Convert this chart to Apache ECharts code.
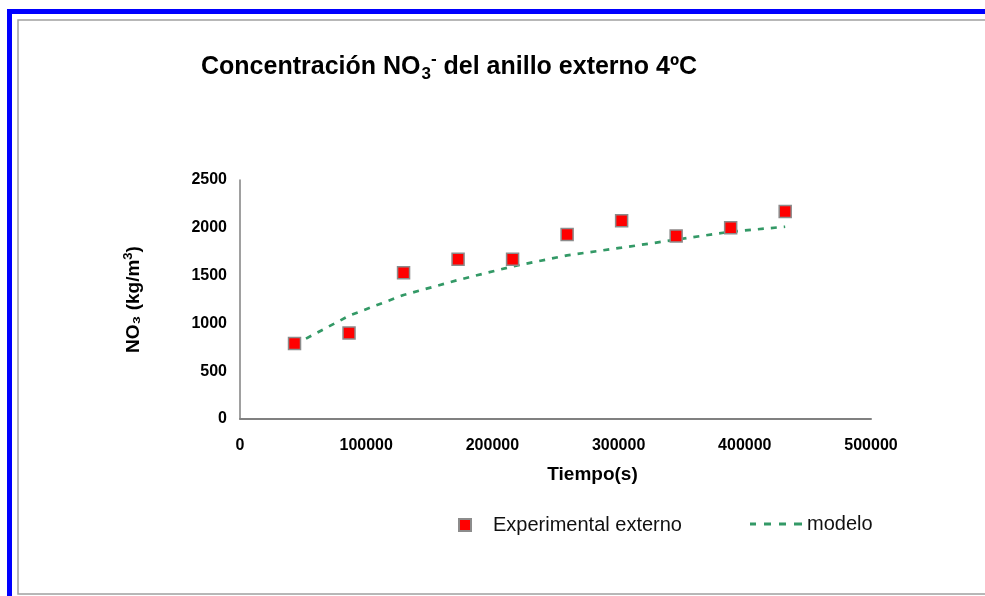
<!DOCTYPE html>
<html>
<head>
<meta charset="utf-8">
<script src="https://cdn.jsdelivr.net/npm/echarts@6/dist/echarts.min.js"></script>
<style>
html,body{margin:0;padding:0;background:#fff;}
#chart{width:985px;height:596px;}
</style>
</head>
<body>
<div id="chart"></div>
<script>
const timeSeconds = [43200, 86400, 129600, 172800, 216000, 259200, 302400, 345600, 388800, 432000];
const experimentalExterno = [790, 900, 1530, 1670, 1670, 1930, 2075, 1915, 2000, 2170];
const modelo = [777, 1080, 1297, 1454, 1596, 1712, 1792, 1876, 1959, 2011];
const xTicks = [0, 100000, 200000, 300000, 400000, 500000];
const yTicks = [0, 500, 1000, 1500, 2000, 2500];
const seriesNames = ['Experimental externo', 'modelo'];

const FONT = "'Liberation Sans', Arial, sans-serif";
const chart = echarts.init(document.getElementById('chart'), null, {renderer: 'canvas'});

const expData = timeSeconds.map((t, i) => [t, experimentalExterno[i]]);
const modData = timeSeconds.map((t, i) => [t, modelo[i]]);

chart.setOption({
  animation: false,
  backgroundColor: '#ffffff',
  textStyle: {fontFamily: FONT},
  graphic: [
    {type: 'rect', shape: {x: 18, y: 20, width: 990, height: 574}, style: {fill: 'none', stroke: '#a0a0a0', lineWidth: 1.5}, silent: true},
    {type: 'rect', shape: {x: 7, y: 9, width: 990, height: 5}, style: {fill: '#0000ff'}, silent: true},
    {type: 'rect', shape: {x: 7, y: 9, width: 5, height: 600}, style: {fill: '#0000ff'}, silent: true}
  ],
  title: {
    left: 196,
    top: 46,
    text: '{a|Concentración NO}{sub|3}{sup|-}{a| del anillo externo 4ºC}',
    textStyle: {
      rich: {
        a: {fontFamily: FONT, fontSize: 25, fontWeight: 'bold', color: '#000', lineHeight: 32},
        sub: {fontFamily: FONT, fontSize: 17, fontWeight: 'bold', color: '#000', lineHeight: 32, verticalAlign: 'bottom', padding: [0, 0, 0, 1]},
        sup: {fontFamily: FONT, fontSize: 17, fontWeight: 'bold', color: '#000', lineHeight: 32, verticalAlign: 'top'}
      }
    }
  },
  grid: {left: 240, right: 114, top: 180, bottom: 177, containLabel: false},
  xAxis: {
    type: 'value',
    min: xTicks[0],
    max: xTicks[xTicks.length - 1],
    interval: xTicks[1] - xTicks[0],
    name: 'Tiempo(s)',
    nameLocation: 'middle',
    nameGap: 46,
    nameTextStyle: {fontFamily: FONT, fontSize: 19, fontWeight: 'bold', color: '#000', padding: [0, 0, 0, 74]},
    axisLine: {show: true, onZero: false, lineStyle: {color: '#808080', width: 2}},
    axisTick: {show: false},
    splitLine: {show: false},
    axisLabel: {fontFamily: FONT, fontSize: 16, fontWeight: 'bold', color: '#000', margin: 19, formatter: v => String(v)}
  },
  yAxis: {
    type: 'value',
    min: yTicks[0],
    max: yTicks[yTicks.length - 1],
    interval: yTicks[1] - yTicks[0],
    name: '{a|NO₃ (kg/m}{sup|3}{a|)}',
    nameLocation: 'middle',
    nameRotate: 90,
    nameGap: 94,
    nameTextStyle: {
      rich: {
        a: {fontFamily: FONT, fontSize: 19, fontWeight: 'bold', color: '#000', lineHeight: 24},
        sup: {fontFamily: FONT, fontSize: 13, fontWeight: 'bold', color: '#000', lineHeight: 24, verticalAlign: 'top'}
      }
    },
    axisLine: {show: true, lineStyle: {color: '#808080', width: 1.5}},
    axisTick: {show: false},
    splitLine: {show: false},
    axisLabel: {fontFamily: FONT, fontSize: 16, fontWeight: 'bold', color: '#000', margin: 13, formatter: v => String(v)}
  },
  legend: [
    {
      data: [seriesNames[0]],
      left: 453,
      top: 510,
      itemWidth: 12,
      itemHeight: 12,
      textStyle: {fontFamily: FONT, fontSize: 20, color: '#111', padding: [0, 0, 0, 17]}
    },
    {
      data: [{name: seriesNames[1], icon: 'path://M0,0h6v3h-6z M14,0h7v3h-7z M29,0h7v3h-7z M44,0h8v3h-8z'}],
      left: 745,
      top: 509,
      itemWidth: 52,
      itemHeight: 3,
      itemStyle: {color: '#339966', borderWidth: 0, opacity: 1},
      textStyle: {fontFamily: FONT, fontSize: 20, color: '#111', padding: [0, 0, 0, 0]}
    }
  ],
  series: [
    {
      name: seriesNames[1],
      type: 'line',
      data: modData,
      symbol: 'none',
      z: 2,
      lineStyle: {color: '#339966', width: 2.7, type: [6, 7]},
      itemStyle: {color: '#339966'}
    },
    {
      name: seriesNames[0],
      type: 'scatter',
      data: expData,
      symbol: 'rect',
      symbolSize: 12,
      z: 3,
      itemStyle: {color: '#ff0000', borderColor: '#8c8c8c', borderWidth: 1.5, opacity: 1}
    }
  ]
});
</script>
</body>
</html>
